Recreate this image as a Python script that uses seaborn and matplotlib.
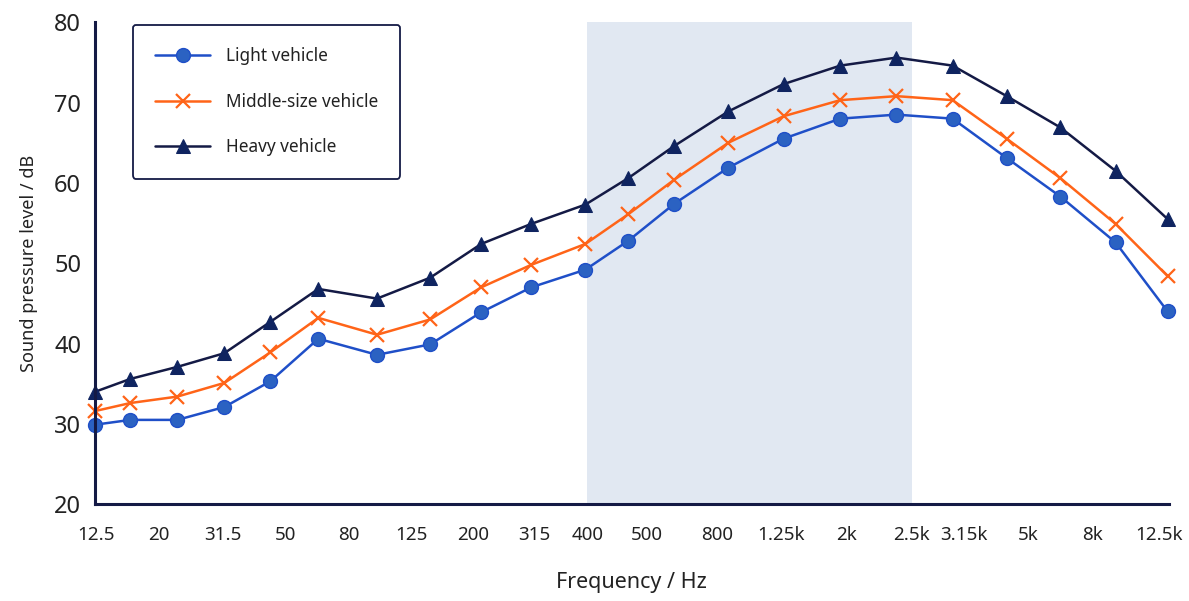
import numpy as np
import pandas as pd
import matplotlib
matplotlib.use("Agg")
import matplotlib.pyplot as plt
import seaborn as sns

# position of each measured band along the (non-uniform) frequency axis
band_pos = [0, 0.69, 1.61, 2.53, 3.43, 4.37, 5.52, 6.56, 7.56, 8.54, 9.60,
            10.44, 11.34, 12.40, 13.48, 14.59, 15.69, 16.79, 17.85, 18.90, 19.98, 21.0]

light = [29.9, 30.5, 30.5, 32.1, 35.3, 40.6, 38.6, 39.9, 43.9, 47.0, 49.2,
         52.8, 57.4, 61.9, 65.5, 68.0, 68.5, 68.0, 63.1, 58.3, 52.6, 44.0]
middle = [31.6, 32.6, 33.4, 35.1, 38.9, 43.2, 41.1, 43.0, 47.0, 49.8, 52.4,
          56.1, 60.4, 65.0, 68.3, 70.3, 70.8, 70.3, 65.5, 60.6, 54.9, 48.4]
heavy = [34.0, 35.6, 37.1, 38.8, 42.7, 46.8, 45.6, 48.2, 52.4, 54.9, 57.3,
         60.6, 64.6, 68.9, 72.3, 74.6, 75.6, 74.6, 70.8, 66.9, 61.5, 55.5]

tick_labels = ["12.5", "20", "31.5", "50", "80", "125", "200", "315", "400",
               "500", "800", "1.25k", "2k", "2.5k", "3.15k", "5k", "8k", "12.5k"]

# where the tick labels sit along the same axis
tick_pos = [0.02, 1.25, 2.51, 3.72, 4.96, 6.19, 7.40, 8.60, 9.64, 10.80,
            12.17, 13.44, 14.71, 15.99, 17.02, 18.28, 19.53, 20.84]

sns.set_style("white")
plt.rcParams['font.family'] = ['Noto Sans', 'DejaVu Sans']

navy = "#141a45"
orange = "#ff6418"

fig = plt.figure(figsize=(11.89, 6.01), dpi=100)
ax = fig.add_axes([0.080, 0.161, 0.902, 0.802])

# highlighted band 400 Hz - 2.5 kHz
ax.axvspan(tick_pos[8], tick_pos[13], color="#e1e8f2", zorder=0, lw=0)

df = pd.DataFrame({"x": band_pos, "Light vehicle": light,
                   "Middle-size vehicle": middle, "Heavy vehicle": heavy})

sns.lineplot(data=df, x="x", y="Light vehicle", ax=ax, color="#1f4fc8", lw=1.8,
             marker="o", markersize=10, markerfacecolor="#2b62c2",
             markeredgecolor="#1f4fc8", markeredgewidth=1, label="Light vehicle", zorder=3)
sns.lineplot(data=df, x="x", y="Middle-size vehicle", ax=ax, color=orange, lw=1.8,
             marker="x", markersize=10, markeredgewidth=1.6,
             markeredgecolor=orange, markerfacecolor=orange,
             label="Middle-size vehicle", zorder=3)
sns.lineplot(data=df, x="x", y="Heavy vehicle", ax=ax, color=navy, lw=1.8,
             marker="^", markersize=10, markerfacecolor="#0f2460",
             markeredgecolor="#0f2460", label="Heavy vehicle", zorder=3)

ax.set_xlim(0, 21)
ax.set_ylim(20, 80)
ax.set_xticks(tick_pos)
ax.set_xticklabels(tick_labels)
ax.set_yticks(range(20, 81, 10))

for s in ["top", "right"]:
    ax.spines[s].set_visible(False)
for s in ["left", "bottom"]:
    ax.spines[s].set_color(navy)
    ax.spines[s].set_linewidth(2.2)
    ax.spines[s].set_zorder(5)
ax.spines["bottom"].set_bounds(0, 21.02)

ax.tick_params(axis="both", direction="out", length=6, width=2, color=navy,
               labelcolor="#222222")
ax.tick_params(axis="x", labelsize=13.5, pad=10)
ax.tick_params(axis="y", labelsize=17, pad=4)

ax.set_xlabel("Frequency / Hz", fontsize=15.5, color="#222222", labelpad=20)
ax.set_ylabel("Sound pressure level / dB", fontsize=13, color="#222222", labelpad=12)
for ln in ax.lines:
    ln.set_clip_on(False)

leg = ax.legend(loc="upper left", bbox_to_anchor=(0.035, 0.995), fontsize=12.4,
                frameon=True, fancybox=True, edgecolor=navy, framealpha=1,
                handlelength=3.2, labelspacing=1.6, borderpad=1.3,
                handletextpad=0.9, borderaxespad=0)
leg.get_frame().set_linewidth(1.3)
for t in leg.get_texts():
    t.set_color("#222222")

fig.savefig("out.png", dpi=100, facecolor="white")
